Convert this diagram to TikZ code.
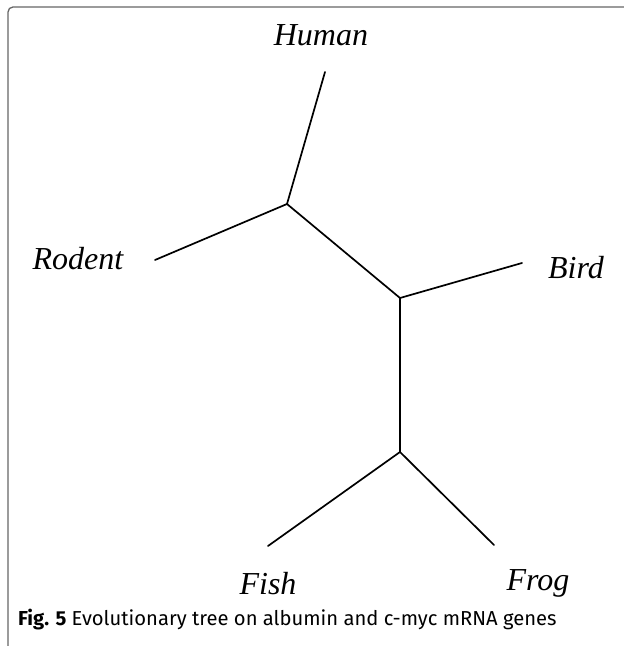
\documentclass[tikz,border=0pt]{standalone}
\usepackage{fontspec}
\setmainfont{Liberation Serif}
\newfontfamily\capfont{Fira Sans}
\tikzset{
    leaf/.style={font=\fontsize{32}{36}\selectfont\itshape, anchor=base},
    branch/.style={line width=1.7pt, line cap=round}
}
\begin{document}
\begin{tikzpicture}[x=1pt, y=1pt]
    \useasboundingbox (0, 0) rectangle (624, 646);
    \draw[gray!80!black, line width=1.3pt, rounded corners=5pt] (8, 0) -- (8, 639) -- (624, 639);

    % inner nodes and branch ends
    \coordinate (n1) at (287, 442);
    \coordinate (n2) at (400, 348);
    \coordinate (n3) at (400, 194);
    \coordinate (human) at (325, 574);
    \coordinate (rodent) at (155, 386);
    \coordinate (bird) at (522, 383);
    \coordinate (fish) at (268, 100);
    \coordinate (frog) at (494, 101);

    \draw[branch] (human) -- (n1) -- (n2) -- (n3);
    \draw[branch] (rodent) -- (n1);
    \draw[branch] (bird) -- (n2);
    \draw[branch] (fish) -- (n3) -- (frog);

    \node[leaf] (humanlabel) at (321, 600) {Human};
    \node[leaf] (rodentlabel) at (78, 376) {Rodent};
    \node[leaf] (birdlabel) at (576, 367) {Bird};
    \node[leaf] (fishlabel) at (268, 52) {Fish};
    \node[leaf] (froglabel) at (538, 55) {Frog};

    \node[anchor=base west, inner sep=0pt, font=\capfont\fontsize{20.2}{23}\selectfont] (caption) at (18, 20)
        {\textbf{Fig. 5} Evolutionary tree on albumin and c-myc mRNA genes};
\end{tikzpicture}
\end{document}
